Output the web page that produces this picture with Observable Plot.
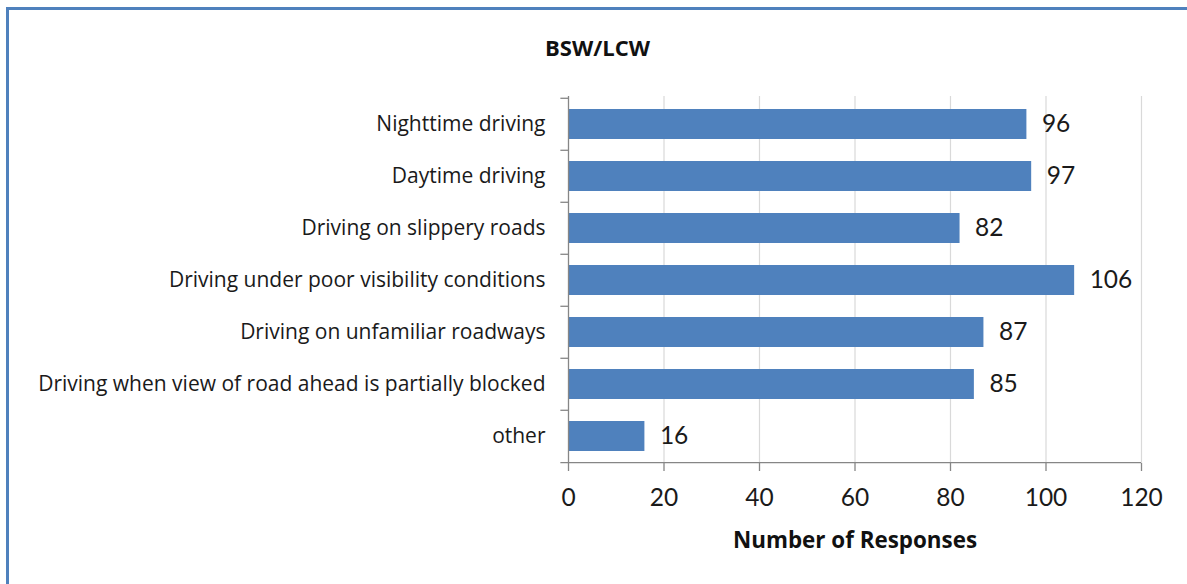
<!DOCTYPE html>
<html>
<head>
<meta charset="utf-8">
<script src="https://cdn.jsdelivr.net/npm/d3@7"></script>
<script src="https://cdn.jsdelivr.net/npm/@observablehq/plot@0.6"></script>
<style>
  html, body { margin: 0; padding: 0; background: #fff; }
  #wrap { position: relative; width: 1187px; height: 584px; overflow: hidden; font-family: "Open Sans", Lato, sans-serif; }
  #frame { position: absolute; left: 6px; top: 7px; width: 1190px; height: 600px; border-top: 3px solid #4f81bd; border-left: 3px solid #4f81bd; box-sizing: border-box; }
  #title { position: absolute; left: 545px; top: 32px; font-weight: bold; font-size: 22px; color: #111; }
  #chart { position: absolute; left: 0; top: 0; }
</style>
</head>
<body>
<div id="wrap">
  <div id="chart"></div>
  <div id="frame"></div>
  <div id="title">BSW/LCW</div>
</div>
<script>
const categories = [
  "Nighttime driving",
  "Daytime driving",
  "Driving on slippery roads",
  "Driving under poor visibility conditions",
  "Driving on unfamiliar roadways",
  "Driving when view of road ahead is partially blocked",
  "other"
];
const values = [96, 97, 82, 106, 87, 85, 16];
const xTicks = [0, 20, 40, 60, 80, 100, 120];
const xLabel = "Number of Responses";

const data = categories.map((c, i) => ({category: c, value: values[i]}));

const W = 1187, H = 584;
const mTop = 96, mBottom = 121, mLeft = 568, mRight = 46;
const step = (H - mTop - mBottom) / categories.length;
const gray = "#868686";
const numFont = "Lato, 'Open Sans', sans-serif";

const chart = Plot.plot({
  width: W,
  height: H,
  marginTop: mTop,
  marginBottom: mBottom,
  marginLeft: mLeft,
  marginRight: mRight,
  style: {fontFamily: "'Open Sans', Lato, sans-serif", color: "#1a1a1a", background: "transparent"},
  x: {domain: [0, 120]},
  y: {domain: categories, paddingInner: 0.43, paddingOuter: 0.215},
  marks: [
    Plot.ruleX(xTicks.filter(d => d > 0), {stroke: "#d9d9d9", strokeWidth: 1.2}),
    Plot.barX(data, {y: "category", x: "value", fill: "#4f81bd"}),
    Plot.text(data, {y: "category", x: "value", text: d => String(d.value), textAnchor: "start", dx: 15, fontSize: 24.5, fontFamily: numFont, fill: "#1a1a1a"}),
    // left axis line
    Plot.ruleX([0], {stroke: gray, strokeWidth: 1.3}),
    // category boundary tick marks (top of each band)
    Plot.ruleY(categories, {y: d => d, x1: -1.6, x2: 0, dy: -step / 2, stroke: gray, strokeWidth: 1.3}),
    // bottom axis line (bottom boundary of last band)
    Plot.ruleY([categories[categories.length - 1]], {y: d => d, x1: -1.6, x2: 120, dy: step / 2, stroke: gray, strokeWidth: 1.3}),
    Plot.axisX({ticks: xTicks, tickSize: 8, tickPadding: 17, fontSize: 24.5, fontFamily: numFont, stroke: gray, strokeWidth: 1.3, label: null}),
    Plot.axisY({tickSize: 0, tickPadding: 23, fontSize: 21, label: null}),
    Plot.text([xLabel], {frameAnchor: "bottom", dy: 84, text: d => d, fontSize: 22.4, fontWeight: "bold", fill: "#111"})
  ]
});
document.getElementById("chart").appendChild(chart);
</script>
</body>
</html>
